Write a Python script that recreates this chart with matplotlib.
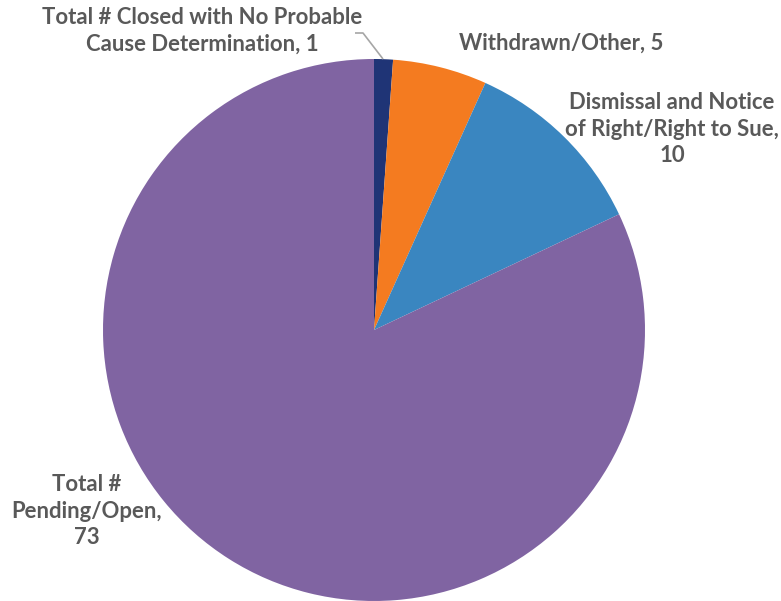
import matplotlib
matplotlib.use("Agg")
import matplotlib.pyplot as plt

categories = [
    "Total # Closed with No Probable\nCause Determination",
    "Withdrawn/Other",
    "Dismissal and Notice\nof Right/Right to Sue,\n",
    "Total #\nPending/Open,\n",
]
values = [1, 5, 10, 73]
colors = ["#1f3476", "#f47b20", "#3a86c0", "#8064a2"]

W, H = 781, 601
fig = plt.figure(figsize=(W / 100, H / 100), dpi=100)
ax = fig.add_axes([0, 0, 1, 1])


def py(y):
    # flip from top-down pixel rows to axis y
    return H - y


cx, cy, r = 374, 330, 271
ax.pie(values, colors=colors, startangle=90, counterclock=False,
       center=(cx, py(cy)), radius=r, frame=True,
       wedgeprops=dict(linewidth=0))
ax.set_xlim(0, W)
ax.set_ylim(0, H)
ax.set_aspect("equal")
ax.axis("off")

label_pos = [(202, 31), (561, 43), (672, 129), (87, 511)]
texts = []
for cat, v in zip(categories, values):
    if cat.endswith("\n"):
        texts.append(f"{cat}{v}")
    else:
        texts.append(f"{cat}, {v}")

for t, (x, y) in zip(texts, label_pos):
    ax.text(x, py(y), t, ha="center", va="center", fontsize=15.9,
            fontweight="bold", family=["Lato", "DejaVu Sans"],
            color="#595959", linespacing=1.3)

# leader line for the smallest slice
ax.plot([355, 363, 383], [py(33), py(33), py(59)], color="#a6a6a6", lw=1.2,
        solid_capstyle="butt")

fig.savefig("out.png", dpi=100)
